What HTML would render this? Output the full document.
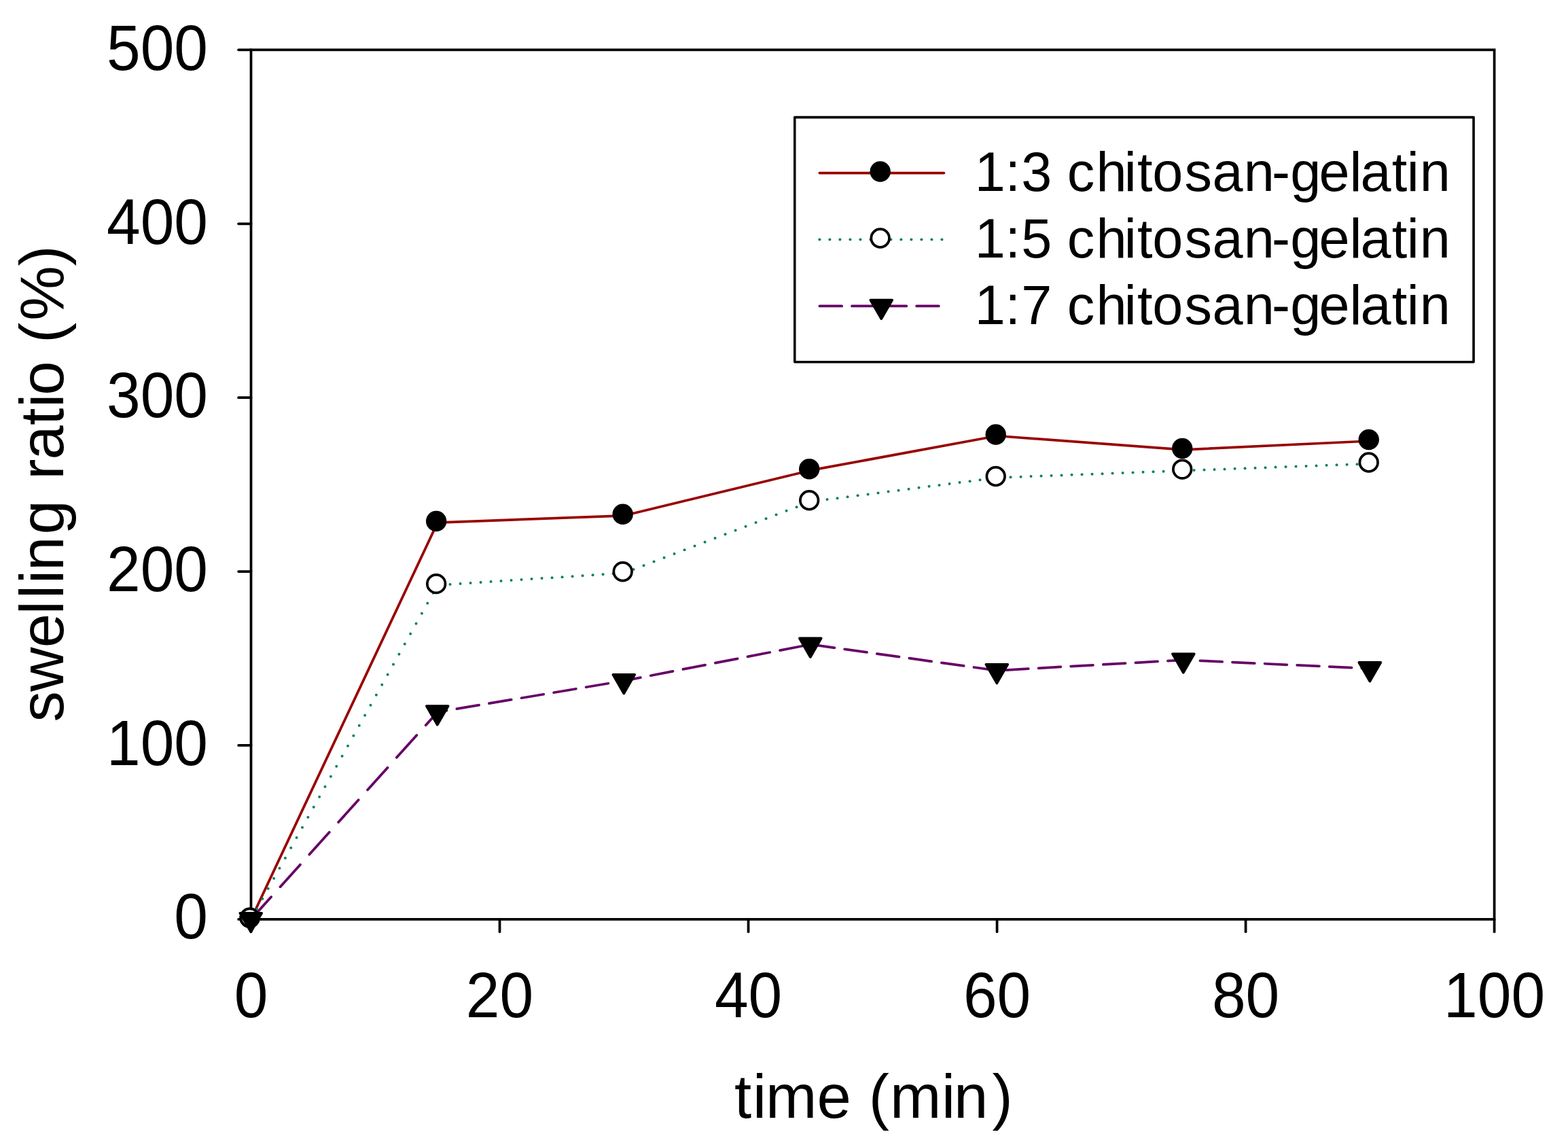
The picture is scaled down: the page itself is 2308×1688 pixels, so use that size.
<!DOCTYPE html>
<html lang="en">
<head>
<meta charset="utf-8">
<title>Swelling ratio (%) versus time (min) for chitosan-gelatin</title>
<style>
html,body{margin:0;padding:0;background:#fff;}
body{width:2308px;height:1688px;overflow:hidden;}
svg{display:block;}
text{font-family:'Liberation Sans', Arial, Helvetica, sans-serif;fill:#000;}
</style>
</head>
<body>
<svg xmlns="http://www.w3.org/2000/svg" width="2308" height="1688" viewBox="0 0 2308 1688">
<rect width="2308" height="1688" fill="#fff"/>
<g id="axes" fill="none" stroke="#000" stroke-width="3.75" stroke-linecap="round">
<rect x="369.5" y="73.35" width="1830.1" height="1279.55"/>
<line x1="351.1" y1="1352.9" x2="369.5" y2="1352.9"/>
<line x1="351.1" y1="1096.99" x2="369.5" y2="1096.99"/>
<line x1="351.1" y1="841.08" x2="369.5" y2="841.08"/>
<line x1="351.1" y1="585.17" x2="369.5" y2="585.17"/>
<line x1="351.1" y1="329.26" x2="369.5" y2="329.26"/>
<line x1="351.1" y1="73.35" x2="369.5" y2="73.35"/>
<line x1="369.5" y1="1352.9" x2="369.5" y2="1371.3"/>
<line x1="735.52" y1="1352.9" x2="735.52" y2="1371.3"/>
<line x1="1101.54" y1="1352.9" x2="1101.54" y2="1371.3"/>
<line x1="1467.56" y1="1352.9" x2="1467.56" y2="1371.3"/>
<line x1="1833.58" y1="1352.9" x2="1833.58" y2="1371.3"/>
<line x1="2199.6" y1="1352.9" x2="2199.6" y2="1371.3"/>
</g>
<g id="y-tick-labels" font-size="89.3" text-anchor="end">
<text transform="translate(306,103.1) scale(1,1.058)">500</text>
<text transform="translate(306,358.73) scale(1,1.058)">400</text>
<text transform="translate(306,614.36) scale(1,1.058)">300</text>
<text transform="translate(306,869.99) scale(1,1.058)">200</text>
<text transform="translate(306,1125.62) scale(1,1.058)">100</text>
<text transform="translate(306,1381.25) scale(1,1.058)">0</text>
</g>
<g id="x-tick-labels" font-size="89.3" text-anchor="middle">
<text transform="translate(369.5,1496.9) scale(1,1.058)">0</text>
<text transform="translate(735.52,1496.9) scale(1,1.058)">20</text>
<text transform="translate(1101.54,1496.9) scale(1,1.058)">40</text>
<text transform="translate(1467.56,1496.9) scale(1,1.058)">60</text>
<text transform="translate(1833.58,1496.9) scale(1,1.058)">80</text>
<text transform="translate(2199.6,1496.9) scale(1,1.058)">100</text>
</g>
<text id="x-title" x="1081.09 1107.95 1127.09 1202.46 1252.79 1278.79 1309.99 1385.95 1403.99 1460.47" y="1644.97" font-size="90.5">time (min)</text>
<text id="y-title" transform="translate(93.05,0) rotate(-90)" x="-1062.56 -1017.77 -953.34 -904.16 -881.1 -858.9 -839.88 -786.57 -736.24 -705.81 -676.44 -625.67 -599.85 -581.68 -531.35 -504.86 -471.71 -391.59" y="0" font-size="90.5">swelling ratio (%)</text>
<g id="series-lines" fill="none" stroke-width="3.75" stroke-linecap="round" stroke-linejoin="round">
<polyline points="369.6,1352.7 644.12,769.06 918.63,758.8 1193.14,692.2 1467.66,641.5 1742.17,661.9 2016.69,649" stroke="#990000"/>
<path d="M369.6,1352.7 L399.1,1319.95 M412.45,1305.13 L441.95,1272.38 M455.3,1257.56 L484.8,1224.81 M498.15,1209.99 L527.65,1177.24 M541,1162.42 L570.5,1129.67 M583.85,1114.85 L613.35,1082.1 M626.7,1067.28 L644.12,1047.95 L657.54,1045.7 M672.36,1043.21 L705.11,1037.71 M719.92,1035.22 L752.67,1029.72 M767.5,1027.23 L800.25,1021.73 M815.07,1019.24 L847.82,1013.74 M862.63,1011.25 L895.38,1005.75 M910.21,1003.26 L918.63,1001.85 L942.96,997.11 M957.77,994.22 L990.52,987.84 M1005.35,984.95 L1038.1,978.57 M1052.91,975.68 L1085.66,969.3 M1100.49,966.41 L1133.24,960.03 M1148.06,957.14 L1180.81,950.75 M1195.62,948.7 L1228.38,953.28 M1243.2,955.36 L1275.95,959.95 M1290.76,962.02 L1323.51,966.61 M1338.34,968.69 L1371.09,973.27 M1385.9,975.35 L1418.65,979.94 M1433.47,982.01 L1466.22,986.6 M1481.05,986.04 L1513.8,984.19 M1528.62,983.35 L1561.37,981.49 M1576.18,980.65 L1608.93,978.8 M1623.76,977.96 L1656.51,976.1 M1671.33,975.26 L1704.08,973.41 M1718.89,972.57 L1742.17,971.25 L1751.64,971.69 M1766.46,972.37 L1799.21,973.88 M1814.04,974.56 L1846.79,976.07 M1861.61,976.75 L1894.36,978.26 M1909.17,978.95 L1941.92,980.45 M1956.75,981.14 L1989.5,982.65 M2004.32,983.33 L2016.69,983.9" stroke="#660066"/>
</g>
<g id="series-dots" fill="#008060">
<circle cx="369.6" cy="1352.7" r="2.0"/>
<circle cx="377.98" cy="1337.7" r="2.0"/>
<circle cx="386.35" cy="1322.7" r="2.0"/>
<circle cx="394.73" cy="1307.7" r="2.0"/>
<circle cx="403.11" cy="1292.7" r="2.0"/>
<circle cx="411.48" cy="1277.7" r="2.0"/>
<circle cx="419.86" cy="1262.7" r="2.0"/>
<circle cx="428.24" cy="1247.7" r="2.0"/>
<circle cx="436.61" cy="1232.7" r="2.0"/>
<circle cx="444.99" cy="1217.7" r="2.0"/>
<circle cx="453.37" cy="1202.7" r="2.0"/>
<circle cx="461.74" cy="1187.7" r="2.0"/>
<circle cx="470.12" cy="1172.7" r="2.0"/>
<circle cx="478.5" cy="1157.7" r="2.0"/>
<circle cx="486.87" cy="1142.7" r="2.0"/>
<circle cx="495.25" cy="1127.7" r="2.0"/>
<circle cx="503.63" cy="1112.7" r="2.0"/>
<circle cx="512" cy="1097.7" r="2.0"/>
<circle cx="520.38" cy="1082.7" r="2.0"/>
<circle cx="528.76" cy="1067.7" r="2.0"/>
<circle cx="537.13" cy="1052.7" r="2.0"/>
<circle cx="545.51" cy="1037.7" r="2.0"/>
<circle cx="553.89" cy="1022.7" r="2.0"/>
<circle cx="562.26" cy="1007.7" r="2.0"/>
<circle cx="570.64" cy="992.7" r="2.0"/>
<circle cx="579.02" cy="977.7" r="2.0"/>
<circle cx="587.39" cy="962.7" r="2.0"/>
<circle cx="595.77" cy="947.7" r="2.0"/>
<circle cx="604.15" cy="932.7" r="2.0"/>
<circle cx="612.52" cy="917.7" r="2.0"/>
<circle cx="620.9" cy="902.7" r="2.0"/>
<circle cx="629.28" cy="887.7" r="2.0"/>
<circle cx="637.65" cy="872.7" r="2.0"/>
<circle cx="647.54" cy="860.91" r="2.0"/>
<circle cx="662.54" cy="859.93" r="2.0"/>
<circle cx="677.54" cy="858.95" r="2.0"/>
<circle cx="692.54" cy="857.97" r="2.0"/>
<circle cx="707.54" cy="856.99" r="2.0"/>
<circle cx="722.54" cy="856.01" r="2.0"/>
<circle cx="737.54" cy="855.03" r="2.0"/>
<circle cx="752.54" cy="854.05" r="2.0"/>
<circle cx="767.54" cy="853.07" r="2.0"/>
<circle cx="782.54" cy="852.09" r="2.0"/>
<circle cx="797.54" cy="851.11" r="2.0"/>
<circle cx="812.54" cy="850.13" r="2.0"/>
<circle cx="827.54" cy="849.15" r="2.0"/>
<circle cx="842.54" cy="848.17" r="2.0"/>
<circle cx="857.54" cy="847.19" r="2.0"/>
<circle cx="872.54" cy="846.21" r="2.0"/>
<circle cx="887.54" cy="845.23" r="2.0"/>
<circle cx="902.54" cy="844.25" r="2.0"/>
<circle cx="917.54" cy="843.27" r="2.0"/>
<circle cx="932.54" cy="837.88" r="2.0"/>
<circle cx="947.54" cy="832.15" r="2.0"/>
<circle cx="962.54" cy="826.41" r="2.0"/>
<circle cx="977.54" cy="820.68" r="2.0"/>
<circle cx="992.54" cy="814.94" r="2.0"/>
<circle cx="1007.54" cy="809.21" r="2.0"/>
<circle cx="1022.54" cy="803.47" r="2.0"/>
<circle cx="1037.55" cy="797.74" r="2.0"/>
<circle cx="1052.55" cy="792" r="2.0"/>
<circle cx="1067.55" cy="786.27" r="2.0"/>
<circle cx="1082.55" cy="780.53" r="2.0"/>
<circle cx="1097.55" cy="774.8" r="2.0"/>
<circle cx="1112.55" cy="769.06" r="2.0"/>
<circle cx="1127.55" cy="763.33" r="2.0"/>
<circle cx="1142.55" cy="757.59" r="2.0"/>
<circle cx="1157.55" cy="751.86" r="2.0"/>
<circle cx="1172.55" cy="746.13" r="2.0"/>
<circle cx="1187.55" cy="740.39" r="2.0"/>
<circle cx="1202.55" cy="737.04" r="2.0"/>
<circle cx="1217.55" cy="735.12" r="2.0"/>
<circle cx="1232.55" cy="733.19" r="2.0"/>
<circle cx="1247.55" cy="731.26" r="2.0"/>
<circle cx="1262.55" cy="729.34" r="2.0"/>
<circle cx="1277.55" cy="727.41" r="2.0"/>
<circle cx="1292.55" cy="725.49" r="2.0"/>
<circle cx="1307.55" cy="723.56" r="2.0"/>
<circle cx="1322.55" cy="721.63" r="2.0"/>
<circle cx="1337.55" cy="719.71" r="2.0"/>
<circle cx="1352.55" cy="717.78" r="2.0"/>
<circle cx="1367.55" cy="715.86" r="2.0"/>
<circle cx="1382.55" cy="713.93" r="2.0"/>
<circle cx="1397.55" cy="712" r="2.0"/>
<circle cx="1412.55" cy="710.08" r="2.0"/>
<circle cx="1427.55" cy="708.15" r="2.0"/>
<circle cx="1442.55" cy="706.22" r="2.0"/>
<circle cx="1457.55" cy="704.3" r="2.0"/>
<circle cx="1472.55" cy="702.81" r="2.0"/>
<circle cx="1487.55" cy="702.25" r="2.0"/>
<circle cx="1502.55" cy="701.68" r="2.0"/>
<circle cx="1517.55" cy="701.11" r="2.0"/>
<circle cx="1532.55" cy="700.54" r="2.0"/>
<circle cx="1547.55" cy="699.97" r="2.0"/>
<circle cx="1562.55" cy="699.41" r="2.0"/>
<circle cx="1577.55" cy="698.84" r="2.0"/>
<circle cx="1592.55" cy="698.27" r="2.0"/>
<circle cx="1607.55" cy="697.7" r="2.0"/>
<circle cx="1622.55" cy="697.13" r="2.0"/>
<circle cx="1637.55" cy="696.56" r="2.0"/>
<circle cx="1652.55" cy="696" r="2.0"/>
<circle cx="1667.55" cy="695.43" r="2.0"/>
<circle cx="1682.55" cy="694.86" r="2.0"/>
<circle cx="1697.55" cy="694.29" r="2.0"/>
<circle cx="1712.55" cy="693.72" r="2.0"/>
<circle cx="1727.55" cy="693.15" r="2.0"/>
<circle cx="1742.55" cy="692.59" r="2.0"/>
<circle cx="1757.55" cy="692.03" r="2.0"/>
<circle cx="1772.55" cy="691.48" r="2.0"/>
<circle cx="1787.55" cy="690.93" r="2.0"/>
<circle cx="1802.55" cy="690.38" r="2.0"/>
<circle cx="1817.55" cy="689.83" r="2.0"/>
<circle cx="1832.55" cy="689.28" r="2.0"/>
<circle cx="1847.55" cy="688.72" r="2.0"/>
<circle cx="1862.55" cy="688.17" r="2.0"/>
<circle cx="1877.55" cy="687.62" r="2.0"/>
<circle cx="1892.55" cy="687.07" r="2.0"/>
<circle cx="1907.55" cy="686.52" r="2.0"/>
<circle cx="1922.55" cy="685.96" r="2.0"/>
<circle cx="1937.55" cy="685.41" r="2.0"/>
<circle cx="1952.55" cy="684.86" r="2.0"/>
<circle cx="1967.55" cy="684.31" r="2.0"/>
<circle cx="1982.55" cy="683.76" r="2.0"/>
<circle cx="1997.55" cy="683.2" r="2.0"/>
<circle cx="2012.55" cy="682.65" r="2.0"/>
</g>
<g id="markers-1" fill="#000">
<circle cx="367.65" cy="1350.7" r="15.2"/>
<circle cx="642.16" cy="767.06" r="15.2"/>
<circle cx="916.68" cy="756.8" r="15.2"/>
<circle cx="1191.19" cy="690.2" r="15.2"/>
<circle cx="1465.71" cy="639.5" r="15.2"/>
<circle cx="1740.22" cy="659.9" r="15.2"/>
<circle cx="2014.74" cy="647" r="15.2"/>
</g>
<g id="markers-2" fill="#fff" stroke="#000" stroke-width="3.75">
<circle cx="367.65" cy="1350.7" r="13.32"/>
<circle cx="642.16" cy="859.13" r="13.32"/>
<circle cx="916.68" cy="841.2" r="13.32"/>
<circle cx="1191.19" cy="736.25" r="13.32"/>
<circle cx="1465.71" cy="701" r="13.32"/>
<circle cx="1740.22" cy="690.6" r="13.32"/>
<circle cx="2014.74" cy="680.5" r="13.32"/>
</g>
<g id="markers-3" fill="#000" stroke="#000" stroke-width="3.75" stroke-linejoin="round">
<polygon points="353.35,1343.77 385.15,1343.77 369.25,1371.31"/>
<polygon points="627.87,1039.02 659.66,1039.02 643.76,1066.56"/>
<polygon points="902.38,992.92 934.18,992.92 918.28,1020.46"/>
<polygon points="1176.89,939.42 1208.7,939.42 1192.8,966.96"/>
<polygon points="1451.41,977.87 1483.21,977.87 1467.31,1005.41"/>
<polygon points="1725.92,962.32 1757.72,962.32 1741.82,989.86"/>
<polygon points="2000.44,974.97 2032.24,974.97 2016.34,1002.51"/>
</g>
<g id="legend">
<rect x="1169.75" y="172.6" width="999.3" height="360.1" fill="#fff" stroke="#000" stroke-width="3.6" stroke-linejoin="round"/>
<g fill="none" stroke-width="3.75" stroke-linecap="round">
<line x1="1206.4" y1="254.5" x2="1389.4" y2="254.5" stroke="#990000"/>
<path d="M1206.4,450.45 L1239.15,450.45 M1253.97,450.45 L1286.72,450.45 M1301.54,450.45 L1334.29,450.45 M1349.11,450.45 L1381.86,450.45" stroke="#660066"/>
</g>
<g fill="#008060">
<circle cx="1206.4" cy="352.5" r="2.0"/>
<circle cx="1221.4" cy="352.5" r="2.0"/>
<circle cx="1236.4" cy="352.5" r="2.0"/>
<circle cx="1251.4" cy="352.5" r="2.0"/>
<circle cx="1266.4" cy="352.5" r="2.0"/>
<circle cx="1281.4" cy="352.5" r="2.0"/>
<circle cx="1296.4" cy="352.5" r="2.0"/>
<circle cx="1311.4" cy="352.5" r="2.0"/>
<circle cx="1326.4" cy="352.5" r="2.0"/>
<circle cx="1341.4" cy="352.5" r="2.0"/>
<circle cx="1356.4" cy="352.5" r="2.0"/>
<circle cx="1371.4" cy="352.5" r="2.0"/>
<circle cx="1386.4" cy="352.5" r="2.0"/>
</g>
<g fill="#000"><circle cx="1295.65" cy="252.5" r="15.2"/></g>
<g fill="#fff" stroke="#000" stroke-width="3.75"><circle cx="1295.65" cy="350.5" r="13.32"/></g>
<g fill="#000" stroke="#000" stroke-width="3.75" stroke-linejoin="round"><polygon points="1281.35,441.52 1313.15,441.52 1297.25,469.06"/></g>
<g font-size="81.0">
<text x="1434.8 1479.61 1503.18 1548.23 1570.64 1613.4 1654.71 1673.97 1696.31 1743.49 1784.51 1830.68 1871.95 1899.2 1941.56 1986.56 2002.56 2048.87 2070.83 2089.75" y="280.75">1:3 chitosan-gelatin</text>
<text x="1434.8 1479.61 1503.18 1548.23 1570.64 1613.4 1654.71 1673.97 1696.31 1743.49 1784.51 1830.68 1871.95 1899.2 1941.56 1986.56 2002.56 2048.87 2070.83 2089.75" y="378.8">1:5 chitosan-gelatin</text>
<text x="1434.8 1479.61 1503.18 1548.23 1570.64 1613.4 1654.71 1673.97 1696.31 1743.49 1784.51 1830.68 1871.95 1899.2 1941.56 1986.56 2002.56 2048.87 2070.83 2089.75" y="476.85">1:7 chitosan-gelatin</text>
</g>
</g>
</svg>
</body>
</html>
